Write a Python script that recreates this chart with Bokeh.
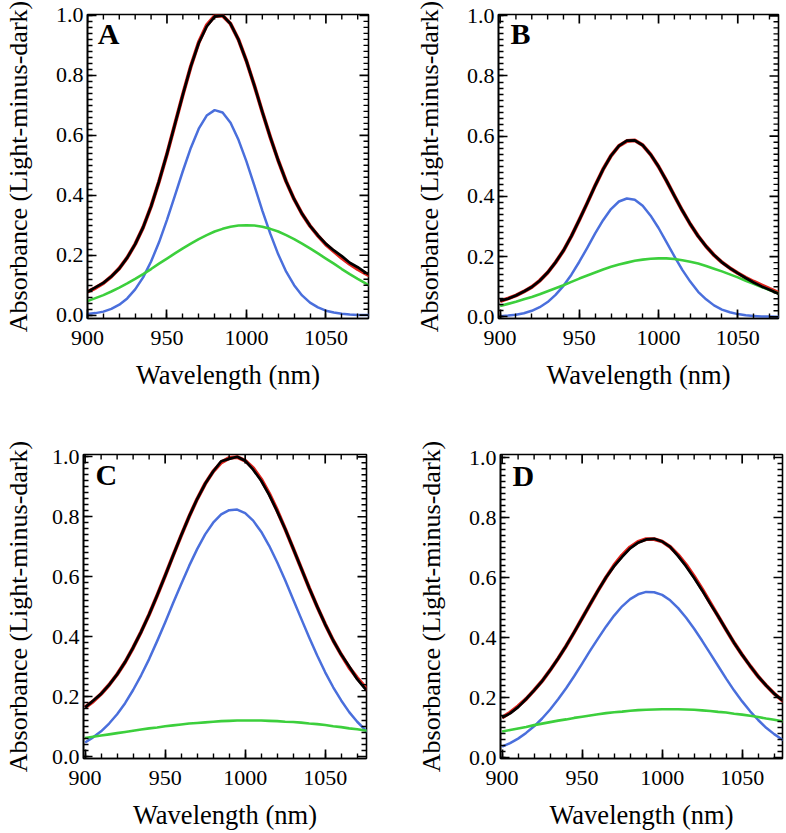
from bokeh.plotting import figure
from bokeh.models import Range1d, FixedTicker, PrintfTickFormatter, Label
from bokeh.layouts import row, column
from bokeh.embed import file_html
from bokeh.resources import INLINE

# ---------------- data ----------------
WAVELENGTH = [900, 905, 910, 915, 920, 925, 930, 935, 940, 945, 950, 955, 960, 965,
              970, 975, 980, 985, 990, 995, 1000, 1005, 1010, 1015, 1020, 1025, 1030,
              1035, 1040, 1045, 1050, 1055, 1060, 1065, 1070, 1075, 1080]
X_TICKS = [900, 950, 1000, 1050]
Y_TICKS = [0.0, 0.2, 0.4, 0.6, 0.8, 1.0]
PANEL_LETTERS = ["A", "B", "C", "D"]
X_LABEL = "Wavelength (nm)"
Y_LABEL = "Absorbance (Light-minus-dark)"

A_BLUE = [.004, .007, .012, .021, .035, .056, .086, .126, .179, .243, .318, .399, .481, .558,
          .622, .666, .684, .676, .642, .585, .513, .432, .349, .272, .203, .145, .100,
          .066, .042, .026, .015, .009, .005, .002, .001, .001, .000]
A_GREEN = [.047, .057, .067, .079, .092, .106, .121, .137, .154, .172, .189, .206, .223, .239,
           .254, .267, .279, .288, .295, .299, .300, .299, .295, .288, .279, .267, .254,
           .239, .223, .206, .189, .172, .154, .137, .121, .106, .092]
A_RED = [.078, .091, .107, .129, .156, .192, .237, .293, .363, .446, .538, .637, .736, .830,
         .910, .967, .998, .999, .972, .919, .848, .766, .678, .594, .516, .446, .387,
         .338, .298, .265, .236, .213, .191, .171, .154, .139, .124]
A_BLACK = [.078, .093, .108, .129, .156, .192, .237, .293, .363, .446, .538, .637, .736, .830,
           .908, .963, .996, 1.000, .972, .919, .848, .766, .678, .594, .516, .446, .387,
           .338, .298, .266, .238, .216, .197, .175, .160, .142, .128]

B_BLUE = [.002, .004, .007, .012, .020, .032, .049, .073, .103, .140, .183, .229, .277, .321,
          .358, .383, .393, .389, .369, .336, .295, .248, .201, .156, .117, .083, .058,
          .038, .024, .015, .009, .005, .003, .001, .001, .000, .000]
B_GREEN = [.036, .043, .050, .058, .066, .075, .085, .095, .105, .116, .127, .137, .147, .157,
           .166, .174, .180, .186, .190, .193, .194, .194, .192, .188, .183, .177, .169,
           .160, .151, .141, .131, .120, .110, .099, .089, .079, .070]
B_RED = [.052, .061, .071, .084, .099, .120, .147, .181, .220, .268, .322, .378, .436, .490,
         .535, .568, .584, .586, .570, .539, .499, .452, .402, .353, .308, .268, .234,
         .205, .181, .162, .145, .130, .117, .105, .093, .082, .073]
B_BLACK = [.054, .060, .071, .084, .099, .120, .147, .181, .220, .268, .322, .378, .436, .490,
           .535, .568, .585, .586, .570, .539, .499, .452, .402, .353, .308, .268, .234,
           .205, .181, .162, .145, .129, .114, .101, .090, .078, .071]

C_BLUE = [.047, .064, .084, .110, .141, .178, .222, .271, .325, .385, .447, .512, .575, .636,
          .692, .741, .780, .808, .822, .824, .812, .787, .750, .703, .648, .588, .524,
          .460, .397, .337, .281, .231, .187, .148, .116, .089, .067]
C_GREEN = [.062, .066, .070, .074, .078, .082, .086, .090, .094, .097, .101, .104, .107, .110,
           .112, .114, .116, .118, .119, .120, .120, .120, .120, .119, .118, .116, .115,
           .113, .110, .108, .105, .101, .098, .094, .091, .087, .083]
C_RED = [.164, .184, .209, .239, .274, .315, .363, .416, .474, .537, .603, .671, .737, .801,
         .859, .910, .951, .981, .996, .999, .987, .962, .925, .877, .821, .759, .694,
         .628, .562, .500, .441, .387, .340, .297, .262, .231, .205]
C_BLACK = [.164, .186, .209, .239, .274, .315, .363, .416, .474, .537, .603, .671, .737, .801,
           .859, .910, .951, .985, .993, 1.000, .987, .957, .920, .873, .818, .759, .694,
           .628, .562, .500, .441, .387, .340, .300, .258, .226, .200]

D_BLUE = [.036, .048, .063, .082, .104, .130, .160, .194, .231, .271, .313, .356, .397, .437,
          .473, .504, .528, .544, .552, .551, .542, .524, .498, .466, .429, .389, .347,
          .305, .263, .223, .187, .154, .125, .099, .078, .060, .046]
D_GREEN = [.087, .092, .097, .102, .108, .113, .118, .123, .127, .132, .136, .140, .144, .148,
           .151, .153, .156, .158, .159, .160, .161, .161, .161, .160, .159, .157, .155,
           .152, .150, .146, .143, .139, .135, .130, .126, .121, .116]
D_RED = [.133, .150, .171, .195, .224, .255, .291, .330, .372, .417, .464, .511, .557, .601,
         .641, .674, .701, .719, .728, .728, .720, .702, .675, .642, .603, .561, .516,
         .471, .426, .382, .342, .305, .270, .240, .213, .191, .171]
D_BLACK = [.133, .147, .168, .195, .224, .255, .291, .330, .372, .417, .464, .511, .557, .601,
           .638, .669, .697, .716, .727, .729, .720, .702, .671, .637, .598, .557, .513,
           .471, .426, .382, .342, .305, .270, .240, .213, .191, .171]

# ---------------- styling ----------------
FONT = "Liberation Serif"
BLUE = "#4a6fdc"
GREEN = "#3ccf3c"
RED = "#e0231c"
BLACK = "#000000"

X_MINOR = [900 + 10 * i for i in range(19)]
Y_MINOR = [round(0.02 * i, 2) for i in range(51)]
MAJOR_LEN = 9
MINOR_LEN = 5


def style_axis(ax, ticks, minor, fmt, standoff):
    ax.ticker = FixedTicker(ticks=ticks, minor_ticks=minor)
    ax.formatter = PrintfTickFormatter(format=fmt)
    ax.axis_line_color = "black"
    ax.axis_line_width = 1.6
    ax.major_tick_line_color = "black"
    ax.major_tick_line_width = 1.7
    ax.minor_tick_line_color = "black"
    ax.minor_tick_line_width = 1.4
    ax.major_tick_in = MAJOR_LEN
    ax.major_tick_out = 0
    ax.minor_tick_in = MINOR_LEN
    ax.minor_tick_out = 0
    ax.major_label_text_font = FONT
    ax.major_label_text_font_size = "22px"
    ax.major_label_text_color = "black"
    ax.major_label_standoff = standoff
    ax.axis_label_text_font = FONT
    ax.axis_label_text_font_style = "normal"
    ax.axis_label_text_color = "black"


def mirror_ticks(p, xr, yr, fw, fh):
    # inward ticks on the top and right frame edges
    kx = (xr[1] - xr[0]) / fw
    ky = (yr[1] - yr[0]) / fh
    top = yr[1]
    rgt = xr[1]
    for ticks, ln, lw in ((X_TICKS, MAJOR_LEN, 1.7),
                          ([t for t in X_MINOR if t not in X_TICKS], MINOR_LEN, 1.4)):
        xs = [t for t in ticks if xr[0] <= t <= xr[1]]
        p.segment(x0=xs, y0=[top] * len(xs), x1=xs, y1=[top - ln * ky] * len(xs),
                  line_color="black", line_width=lw)
    for ticks, ln, lw in ((Y_TICKS, MAJOR_LEN, 1.7),
                          ([t for t in Y_MINOR if t not in Y_TICKS], MINOR_LEN, 1.4)):
        ys = [t for t in ticks if yr[0] <= t <= yr[1]]
        p.segment(x0=[rgt] * len(ys), y0=ys, x1=[rgt - ln * kx] * len(ys), y1=ys,
                  line_color="black", line_width=lw)


def panel(letter, black, red, blue, green, width, height, borders, xr, yr, ystandoff):
    left, right, top, bottom = borders
    fw = width - left - right
    fh = height - top - bottom
    p = figure(width=width, height=height, output_backend="svg", toolbar_location=None,
               x_range=Range1d(*xr), y_range=Range1d(*yr),
               min_border_left=left, min_border_right=right,
               min_border_top=top, min_border_bottom=bottom,
               background_fill_color="white", border_fill_color="white")
    p.xgrid.visible = False
    p.ygrid.visible = False
    p.outline_line_color = "black"
    p.outline_line_width = 1.6

    p.line(WAVELENGTH, red, line_color=RED, line_width=3.8, line_join="round")
    p.line(WAVELENGTH, blue, line_color=BLUE, line_width=2.5, line_join="round")
    p.line(WAVELENGTH, green, line_color=GREEN, line_width=2.6, line_join="round")
    p.line(WAVELENGTH, black, line_color=BLACK, line_width=2.7, line_join="round")

    mirror_ticks(p, xr, yr, fw, fh)

    xa = p.xaxis[0]
    ya = p.yaxis[0]
    style_axis(xa, X_TICKS, X_MINOR, "%d", 12)
    style_axis(ya, Y_TICKS, Y_MINOR, "%.1f", 4)
    xa.axis_label = X_LABEL
    xa.axis_label_text_font_size = "26.5px"
    xa.axis_label_standoff = 12
    ya.axis_label = Y_LABEL
    ya.axis_label_text_font_size = "26px"
    ya.axis_label_standoff = ystandoff

    p.add_layout(Label(x=906.5, y=0.94, text=letter, text_font=FONT,
                       text_font_size="30px", text_font_style="bold",
                       text_color="black", text_align="left",
                       text_baseline="middle"))
    return p


pA = panel(PANEL_LETTERS[0], A_BLACK, A_RED, A_BLUE, A_GREEN, 390, 416,
           (87, 22, 14, 98), (900, 1076.8), (-0.011, 1.003), 20)
pB = panel(PANEL_LETTERS[1], B_BLACK, B_RED, B_BLUE, B_GREEN, 396, 416,
           (108, 8, 14, 95), (899, 1075.7), (-0.0056, 1.0043), 20)
pC = panel(PANEL_LETTERS[2], C_BLACK, C_RED, C_BLUE, C_GREEN, 390, 417,
           (83, 24, 37, 73), (899, 1075.8), (-0.0066, 1.0076), 16)
pD = panel(PANEL_LETTERS[3], D_BLACK, D_RED, D_BLUE, D_GREEN, 396, 417,
           (110, 4, 38, 75), (899, 1075.2), (-0.0033, 1.010), 20)

layout = column(row(pA, pB), row(pC, pD),
                styles={"position": "absolute", "left": "0px", "top": "0px"})

open("out.html", "w").write(file_html(layout, INLINE))
